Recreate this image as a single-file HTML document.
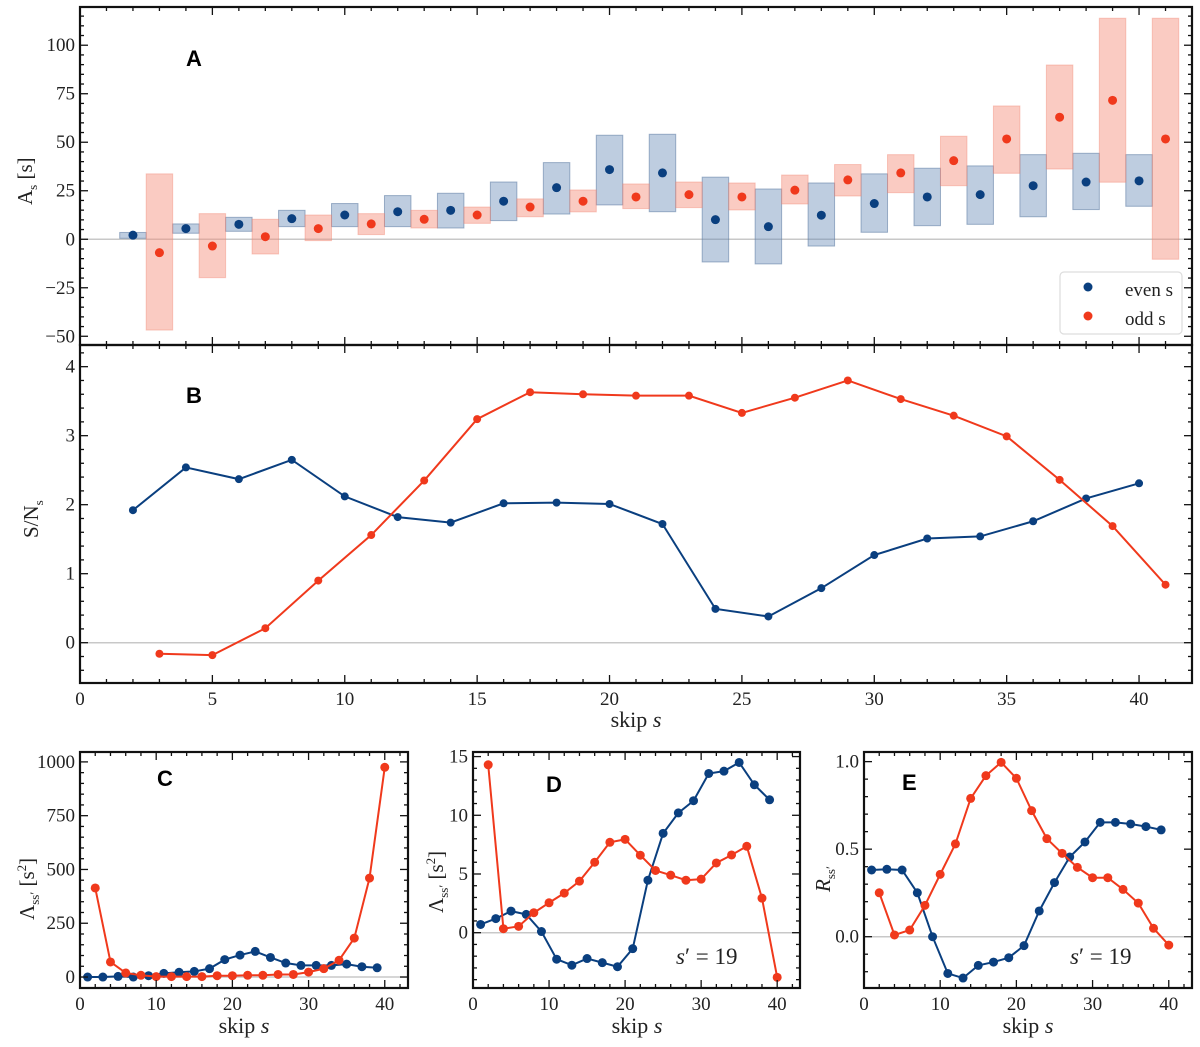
<!DOCTYPE html>
<html><head><meta charset="utf-8">
<style>
html,body{margin:0;padding:0;background:#fff;}
svg{display:block;}
text{font-family:"Liberation Serif",serif;fill:#222;}
.lbl{font-family:"Liberation Sans",sans-serif;font-weight:bold;fill:#000;}
</style></head>
<body>
<svg id="fig" width="1200" height="1047" viewBox="0 0 1200 1047" xmlns="http://www.w3.org/2000/svg"></svg>
<script>
// ---- Panel A data ----
const aEvenS = [2,4,6,8,10,12,14,16,18,20,22,24,26,28,30,32,34,36,38,40];
const aEvenVal = [2.1,5.5,7.7,10.6,12.5,14.2,14.9,19.6,26.6,35.9,34.2,10.1,6.5,12.4,18.4,21.8,23.0,27.6,29.5,30.1];
const aEvenLo = [0.5,3.1,4.1,6.5,6.5,6.5,5.8,9.6,13.0,17.7,14.2,-11.7,-12.7,-3.5,3.6,7.0,7.7,11.6,15.3,17.0];
const aEvenHi = [3.5,7.9,11.3,14.9,18.4,22.5,23.7,29.5,39.5,53.6,54.1,32.0,25.9,29.0,33.7,36.6,37.8,43.6,44.3,43.6];
const aOddS = [3,5,7,9,11,13,15,17,19,21,23,25,27,29,31,33,35,37,39,41];
const aOddVal = [-6.9,-3.5,1.3,5.5,7.9,10.3,12.5,16.6,19.6,21.8,23.0,21.8,25.3,30.6,34.2,40.5,51.7,62.9,71.6,51.7];
const aOddLo = [-46.8,-19.8,-7.6,-0.7,2.4,5.8,8.2,11.6,14.1,15.8,16.3,15.1,18.2,22.3,24.0,27.6,34.0,36.2,29.4,-10.3];
const aOddHi = [33.7,13.2,10.3,12.5,13.2,14.9,16.6,20.8,25.4,28.5,29.5,29.0,33.1,38.5,43.6,53.1,68.7,89.8,113.9,113.9];
// ---- Panel B data ----
const bEvenVal = [1.92,2.54,2.37,2.65,2.12,1.82,1.74,2.02,2.03,2.01,1.72,0.49,0.38,0.79,1.27,1.51,1.54,1.76,2.09,2.31];
const bOddVal = [-0.16,-0.18,0.21,0.90,1.56,2.35,3.24,3.63,3.60,3.58,3.58,3.33,3.55,3.80,3.53,3.29,2.99,2.36,1.69,0.84];
// ---- Panels C/D/E data ----
const oddS = [1,3,5,7,9,11,13,15,17,19,21,23,25,27,29,31,33,35,37,39];
const evenS = [2,4,6,8,10,12,14,16,18,20,22,24,26,28,30,32,34,36,38,40];
const cBlue = [0,0,3,0,6,17,22,26,39,81,102,119,91,65,54,54,54,60,48,43];
const cRed = [414,70,19,8,2,2,2,2,6,6,8,8,12,12,23,39,78,181,460,975];
const dBlue = [0.7,1.2,1.84,1.56,0.1,-2.26,-2.77,-2.2,-2.55,-2.9,-1.36,4.47,8.46,10.2,11.24,13.56,13.76,14.5,12.6,11.32];
const dRed = [14.3,0.34,0.54,1.7,2.55,3.37,4.39,6.0,7.7,7.95,6.6,5.3,4.9,4.47,4.56,5.94,6.62,7.36,2.94,-3.8];
const eBlue = [0.381,0.385,0.381,0.251,0,-0.21,-0.236,-0.164,-0.145,-0.12,-0.051,0.147,0.309,0.455,0.541,0.653,0.653,0.644,0.629,0.61];
const eRed = [0.251,0.01,0.038,0.179,0.356,0.53,0.79,0.92,0.996,0.905,0.72,0.56,0.476,0.396,0.337,0.337,0.27,0.192,0.048,-0.048];
// tick labels
const abXTicks = [0,5,10,15,20,25,30,35,40];
const aYTicks = [-50,-25,0,25,50,75,100];
const bYTicks = [0,1,2,3,4];
const cdeXTicks = [0,10,20,30,40];
const cYTicks = [0,250,500,750,1000];
const dYTicks = [0,5,10,15];
const eYTicks = [0.0,0.5,1.0];

const BLUE='#0a3f7f', RED='#f0391c';
const NS='http://www.w3.org/2000/svg';
const svg=document.getElementById('fig');
function el(tag,attrs,parent){const e=document.createElementNS(NS,tag);for(const k in attrs)e.setAttribute(k,attrs[k]);(parent||svg).appendChild(e);return e;}

function makeAxes(p){
  p.sx=v=>p.x0+(v-p.xmin)/(p.xmax-p.xmin)*(p.x1-p.x0);
  p.sy=v=>p.y1-(v-p.ymin)/(p.ymax-p.ymin)*(p.y1-p.y0);
  const g=el('g',{});
  
  
  p.g=g;
  // zero line
  const z=el('line',{x1:p.x0,x2:p.x1,y1:p.sy(0),y2:p.sy(0),stroke:'#c8c8c8','stroke-width':1.5},g);
  
  
  return p;
}
function finishAxes(p){
  const g=el('g',{});
  
  
  // ticks
  const eps=1e-9;
  for(let v=Math.ceil(p.xmin/p.xminor)*p.xminor; v<=p.xmax+eps; v+=p.xminor){
    const major=Math.abs(v/p.xmajor-Math.round(v/p.xmajor))<1e-6; const L=major?8:4; const X=p.sx(v);
    el('line',{x1:X,x2:X,y1:p.y1,y2:p.y1-L,stroke:'#111','stroke-width':1.3},g);
    el('line',{x1:X,x2:X,y1:p.y0,y2:p.y0+L,stroke:'#111','stroke-width':1.3},g);
  }
  for(let v=Math.ceil(p.ymin/p.yminor-eps)*p.yminor; v<=p.ymax+eps; v+=p.yminor){
    const major=Math.abs(v/p.ymajor-Math.round(v/p.ymajor))<1e-6; const L=major?8:4; const Y=p.sy(v);
    el('line',{x1:p.x0,x2:p.x0+L,y1:Y,y2:Y,stroke:'#111','stroke-width':1.3},g);
    el('line',{x1:p.x1,x2:p.x1-L,y1:Y,y2:Y,stroke:'#111','stroke-width':1.3},g);
  }
  el('rect',{x:p.x0,y:p.y0,width:p.x1-p.x0,height:p.y1-p.y0,fill:'none',stroke:'#111','stroke-width':2.2},g);
  if(p.xticks){p.xticks.forEach(v=>{const t=el('text',{x:p.sx(v),y:p.y1+22,'font-size':19,'text-anchor':'middle'},g);t.textContent=String(v);});}
  p.yticks.forEach(v=>{const t=el('text',{x:p.x0-5,y:p.sy(v)+6,'font-size':19,'text-anchor':'end'},g);t.textContent=p.yfmt?p.yfmt(v):(v<0?'\u2212'+Math.abs(v):String(v));});
}
function series(p,xs,ys,color,name,line,r){
  const g=el('g',{});
  
  
  if(line){const pts=xs.map((x,i)=>p.sx(x)+','+p.sy(ys[i])).join(' ');el('polyline',{points:pts,fill:'none',stroke:color,'stroke-width':2},g);}
  xs.forEach((x,i)=>{const c=el('circle',{cx:p.sx(x),cy:p.sy(ys[i]),r:r,fill:color},g);});
}
function boxes(p,xs,lo,hi,fill,stroke,name){
  const g=el('g',{});
  
  
  xs.forEach((x,i)=>{const y1=p.sy(hi[i]),y2=p.sy(lo[i]);const r=el('rect',{x:p.sx(x-0.5),y:y1,width:p.sx(x+0.5)-p.sx(x-0.5),height:y2-y1,fill:fill,stroke:stroke,'stroke-width':1},g);});
}
function txt(x,y,s,attrs,name){const t=el('text',Object.assign({x:x,y:y},attrs));t.innerHTML=s;return t;}

// Panel A
const A=makeAxes({name:'panel-a',x0:80,x1:1192,y0:7,y1:345,xmin:0,xmax:42,ymin:-54.5,ymax:119.7,xminor:1,xmajor:5,yminor:5,ymajor:25,yticks:aYTicks});
boxes(A,aEvenS,aEvenLo,aEvenHi,'rgba(100,137,180,0.42)','rgba(90,120,160,0.55)','even-boxes');
boxes(A,aOddS,aOddLo,aOddHi,'rgba(245,140,120,0.45)','rgba(240,130,110,0.4)','odd-boxes');
series(A,aEvenS,aEvenVal,BLUE,'a-even-series',false,4.5);
series(A,aOddS,aOddVal,RED,'a-odd-series',false,4.5);
finishAxes(A);
// legend
const lg=el('g',{});


el('rect',{x:1060,y:272,width:122,height:62,rx:4,fill:'#fff',stroke:'#ddd','stroke-width':1.2},lg);
el('circle',{cx:1088,cy:287,r:4.5,fill:BLUE},lg);
el('circle',{cx:1088,cy:316,r:4.5,fill:RED},lg);
txt(1125,296,'even s',{'font-size':19},'legend-entry-even');
txt(1125,325,'odd s',{'font-size':19},'legend-entry-odd');
txt(186,66,'A',{'font-size':22,class:'lbl'},'panel-label-a');
txt(0,0,'A<tspan font-size="13" dy="5">s</tspan><tspan dy="-5"> [s]</tspan>',{'font-size':21,transform:'translate(32,205) rotate(-90)'},'y-axis-title-a');

// Panel B
const B=makeAxes({name:'panel-b',x0:80,x1:1192,y0:345,y1:683,xmin:0,xmax:42,ymin:-0.584,ymax:4.314,xminor:1,xmajor:5,yminor:0.2,ymajor:1,yticks:bYTicks,xticks:abXTicks});
series(B,aEvenS,bEvenVal,BLUE,'b-even-series',true,4);
series(B,aOddS,bOddVal,RED,'b-odd-series',true,4);
finishAxes(B);
txt(186,403,'B',{'font-size':22,class:'lbl'},'panel-label-b');
txt(0,0,'S/N<tspan font-size="13" dy="5">s</tspan>',{'font-size':21,transform:'translate(38,538) rotate(-90)'},'y-axis-title-b');
txt(636,727,'skip <tspan font-style="italic">s</tspan>',{'font-size':22,'text-anchor':'middle'},'x-axis-title-b');

// Panel C
const C=makeAxes({name:'panel-c',x0:80,x1:408,y0:752,y1:988,xmin:0,xmax:43.05,ymin:-51,ymax:1046,xminor:2,xmajor:10,yminor:50,ymajor:250,yticks:cYTicks,xticks:cdeXTicks});
series(C,oddS,cBlue,BLUE,'c-blue-series',true,4.5);
series(C,evenS,cRed,RED,'c-red-series',true,4.5);
finishAxes(C);
txt(157,786,'C',{'font-size':22,class:'lbl'},'panel-label-c');
txt(0,0,'\u039B<tspan font-size="13" dy="5">ss\u2032</tspan><tspan dy="-5"> [s</tspan><tspan font-size="13" dy="-8">2</tspan><tspan dy="8">]</tspan>',{'font-size':21,transform:'translate(34,920) rotate(-90)'},'y-axis-title-c');
txt(244,1033,'skip <tspan font-style="italic">s</tspan>',{'font-size':22,'text-anchor':'middle'},'x-axis-title-c');

// Panel D
const D=makeAxes({name:'panel-d',x0:473,x1:800,y0:752,y1:988,xmin:0,xmax:43.0,ymin:-4.71,ymax:15.39,xminor:2,xmajor:10,yminor:1,ymajor:5,yticks:dYTicks,xticks:cdeXTicks});
series(D,oddS,dBlue,BLUE,'d-blue-series',true,4.5);
series(D,evenS,dRed,RED,'d-red-series',true,4.5);
finishAxes(D);
txt(546,792,'D',{'font-size':22,class:'lbl'},'panel-label-d');
txt(0,0,'\u039B<tspan font-size="13" dy="5">ss\u2032</tspan><tspan dy="-5"> [s</tspan><tspan font-size="13" dy="-8">2</tspan><tspan dy="8">]</tspan>',{'font-size':21,transform:'translate(443,913) rotate(-90)'},'y-axis-title-d');
txt(637,1033,'skip <tspan font-style="italic">s</tspan>',{'font-size':22,'text-anchor':'middle'},'x-axis-title-d');
txt(676,964,'<tspan font-style="italic">s</tspan>\u2032 = 19',{'font-size':23},'annotation-d');

// Panel E
const E=makeAxes({name:'panel-e',x0:864,x1:1192,y0:752,y1:988,xmin:0,xmax:43.05,ymin:-0.293,ymax:1.055,xminor:2,xmajor:10,yminor:0.1,ymajor:0.5,yticks:eYTicks,xticks:cdeXTicks,yfmt:v=>v.toFixed(1)});
series(E,oddS,eBlue,BLUE,'e-blue-series',true,4.5);
series(E,evenS,eRed,RED,'e-red-series',true,4.5);
finishAxes(E);
txt(902,790,'E',{'font-size':22,class:'lbl'},'panel-label-e');
txt(0,0,'<tspan font-style="italic">R</tspan><tspan font-size="13" dy="5">ss\u2032</tspan>',{'font-size':21,transform:'translate(830,892) rotate(-90)'},'y-axis-title-e');
txt(1028,1033,'skip <tspan font-style="italic">s</tspan>',{'font-size':22,'text-anchor':'middle'},'x-axis-title-e');
txt(1070,964,'<tspan font-style="italic">s</tspan>\u2032 = 19',{'font-size':23},'annotation-e');
</script>
</body></html>
